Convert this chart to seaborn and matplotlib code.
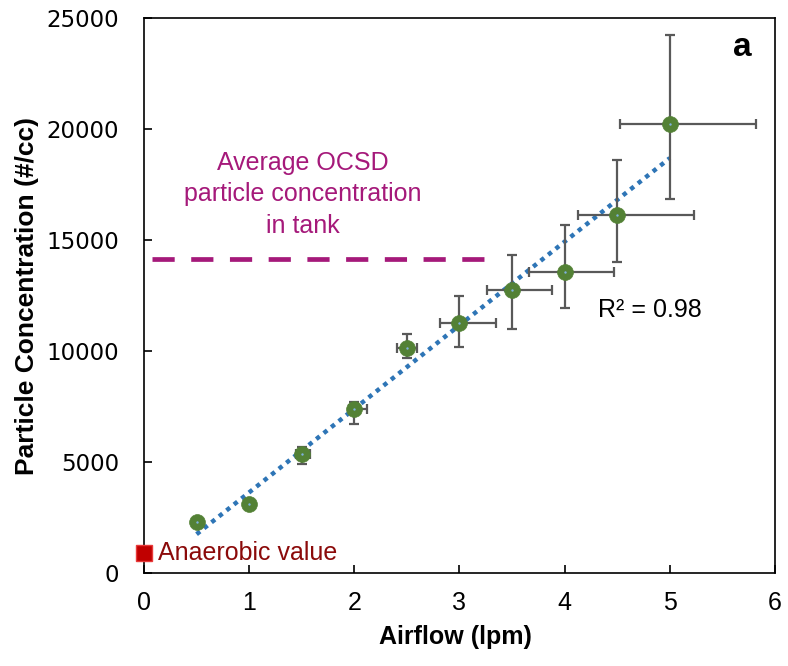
import numpy as np
import pandas as pd
import matplotlib
matplotlib.use("Agg")
import matplotlib.pyplot as plt
import seaborn as sns

# Airflow sweep: mean particle concentration with asymmetric spread
airflow = [0.5, 1.0, 1.5, 2.0, 2.5, 3.0, 3.5, 4.0, 4.5, 5.0]
concentration = [2300, 3100, 5380, 7370, 10130, 11260, 12750, 13560, 16120, 20220]
conc_err_low = [150, 150, 450, 675, 465, 1080, 1770, 1620, 2100, 3380]
conc_err_high = [150, 150, 300, 345, 645, 1200, 1580, 2130, 2480, 4010]
flow_err_low = [0.0, 0.0, 0.05, 0.05, 0.09, 0.19, 0.235, 0.34, 0.37, 0.475]
flow_err_high = [0.0, 0.0, 0.08, 0.125, 0.095, 0.35, 0.38, 0.465, 0.73, 0.82]

# Reference levels
anaerobic_flow = [0.0]
anaerobic_conc = [880]
tank_span = [0.08, 3.25]
tank_conc = [14130, 14130]

x_ticks = [0, 1, 2, 3, 4, 5, 6]
y_ticks = [0, 5000, 10000, 15000, 20000, 25000]

df = pd.DataFrame({"Airflow (lpm)": airflow, "Concentration": concentration})

sns.set_style("ticks")
plt.rcParams["font.family"] = ["Liberation Sans", "DejaVu Sans"]
plt.rcParams["text.color"] = "black"
plt.rcParams["axes.labelcolor"] = "black"
plt.rcParams["xtick.color"] = "black"
plt.rcParams["ytick.color"] = "black"

fig = plt.figure(figsize=(7.88, 6.66), dpi=100)
ax = fig.add_axes([0.1827, 0.1396, 0.8008, 0.8334])

green = "#538135"
magenta = "#A5197A"

# linear trend line
sns.regplot(data=df, x="Airflow (lpm)", y="Concentration", ax=ax, scatter=False,
            ci=None, truncate=True,
            line_kws=dict(color="#2E75B6", lw=3.2, linestyle=(0, (1.0, 1.15)),
                          dash_capstyle="butt", zorder=2))

# error bars
ax.errorbar(airflow, concentration,
            yerr=[conc_err_low, conc_err_high],
            xerr=[flow_err_low, flow_err_high],
            fmt="none", ecolor="#595959", elinewidth=1.6, capsize=3.3,
            capthick=1.6, zorder=3)

# measured points
sns.scatterplot(data=df, x="Airflow (lpm)", y="Concentration", ax=ax,
                s=130, color=green, edgecolor=green, linewidth=0.5, zorder=4)
ax.scatter(airflow, concentration, s=3, color="#7FB2E0", zorder=5, linewidths=0)

# tank average level
ax.plot(tank_span, tank_conc, color=magenta, lw=3.4,
        linestyle=(0, (4.7, 3.5)), dash_capstyle="butt", zorder=2)

# anaerobic reference
ax.plot(anaerobic_flow, anaerobic_conc, marker="s", markersize=11,
        color="#C00000", markeredgecolor="#E83A3A", markeredgewidth=1.0,
        linestyle="none", clip_on=False, zorder=6)

ax.text(0.13, anaerobic_conc[0], "Anaerobic value", color="#8B0A0A",
        fontsize=18, ha="left", va="center")
ax.text(1.51, 17050, "Average OCSD\nparticle concentration\nin tank",
        color=magenta, fontsize=18, ha="center", va="center",
        linespacing=1.4)

# goodness of fit computed from the data
coef = np.polyfit(airflow, concentration, 1)
pred = np.polyval(coef, airflow)
ss_res = np.sum((np.array(concentration) - pred) ** 2)
ss_tot = np.sum((np.array(concentration) - np.mean(concentration)) ** 2)
r2 = 1 - ss_res / ss_tot
ax.text(4.316, 11850, f"R² = {r2:.2f}", fontsize=18, ha="left", va="center")

ax.text(5.685, 23650, "a", fontsize=24, fontweight="bold", ha="center", va="center")

ax.set_xlim(0, 6)
ax.set_ylim(0, 25000)
ax.set_xticks(x_ticks)
ax.set_yticks(y_ticks)
ax.set_xticklabels([str(t) for t in x_ticks], fontsize=18)
ax.set_yticklabels([str(t) for t in y_ticks], fontsize=16.5, family="DejaVu Sans")
ax.tick_params(axis="both", direction="in", length=6, width=1.2, color="black",
               labelcolor="black")
ax.tick_params(axis="x", pad=13)
ax.tick_params(axis="y", pad=18)

for side in ["left", "right", "top", "bottom"]:
    ax.spines[side].set_visible(True)
    ax.spines[side].set_color("black")
    ax.spines[side].set_linewidth(1.2)

ax.set_xlabel("Airflow (lpm)", fontsize=18, fontweight="bold")
ax.set_ylabel("Particle Concentration (#/cc)", fontsize=19, fontweight="bold")
ax.xaxis.set_label_coords(0.493, -0.094)
ax.xaxis.label.set_va("top")
ax.yaxis.set_label_coords(-0.167, 0.5)

fig.savefig("out.png", dpi=100, facecolor="white")
